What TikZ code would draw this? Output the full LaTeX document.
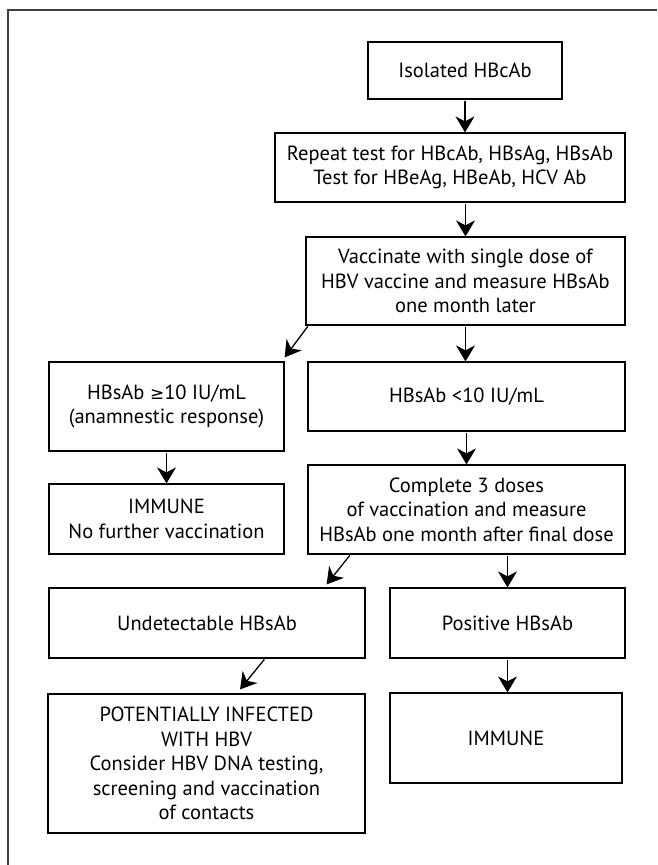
\documentclass[tikz,border=0pt]{standalone}
\usepackage{fontspec}
\setmainfont{PT Sans}
\newfontfamily\symfont{DejaVu Sans}
\usetikzlibrary{arrows.meta,positioning,calc}

\begin{document}
\begin{tikzpicture}[x=1pt,y=-1pt,
        boxsty/.style={
            draw, rectangle, line width=1.2pt, align=center, inner sep=0pt,
            font=\fontsize{20.5}{24.5}\selectfont,
        },
        arrsty/.style={
            -{Stealth[length=16pt,width=19pt,inset=5pt]}, line width=1.3pt,
            shorten <=1pt
        },
        framesty/.style={
            line width=1.5pt, black!75
        }
    ]
    \useasboundingbox (0,0) rectangle (657,865);
    \draw[framesty] (657,10) -- (8,10) -- (8,865);

    % main column
    \node[boxsty, minimum width=194pt, minimum height=57pt] at (465,70.5) (iso) {Isolated HBcAb};
    \node[boxsty, minimum width=350pt, minimum height=69pt] at (450,167.5) (rep) {Repeat test for HBcAb, HBsAg, HBsAb\\Test for HBeAg, HBeAb, HCV Ab};
    \node[boxsty, minimum width=319pt, minimum height=88pt] at (465.5,281) (vac) {Vaccinate with single dose of\\HBV vaccine and measure HBsAb\\one month later};

    % first split
    \node[boxsty, minimum width=235pt, minimum height=89pt] at (166.5,406.5) (hi) {HBsAb {\symfont\fontsize{17}{20}\selectfont ≥}10 IU/mL\\(anamnestic response)};
    \node[boxsty, minimum width=317pt, minimum height=69pt] at (466.5,396.5) (lo) {HBsAb <10 IU/mL};
    \node[boxsty, minimum width=235pt, minimum height=70pt] at (166.5,519) (imm1) {IMMUNE\\No further vaccination};
    \node[boxsty, minimum width=317pt, minimum height=89pt] at (466.5,509.5) (cmp) {Complete 3 doses\\of vaccination and measure\\HBsAb one month after final dose};

    % second split
    \node[boxsty, minimum width=316pt, minimum height=70pt] at (207,623) (und) {Undetectable HBsAb};
    \node[boxsty, minimum width=235pt, minimum height=70pt] at (507.5,623) (pos) {Positive HBsAb};
    \node[boxsty, minimum width=317pt, minimum height=139pt] at (206.5,763.5) (inf) {POTENTIALLY INFECTED\\WITH HBV\\Consider HBV DNA testing,\\screening and vaccination\\of contacts};
    \node[boxsty, minimum width=232pt, minimum height=90pt] at (506,738) (imm2) {IMMUNE};

    \draw[arrsty] (iso.south) -- (iso.south |- rep.north);
    \draw[arrsty] (vac.north |- rep.south) -- (vac.north);
    \draw[arrsty] ([xshift=3pt]vac.south west) -- ([yshift=4pt]hi.north east);
    \draw[arrsty] (vac.south) -- (vac.south |- lo.north);
    \draw[arrsty] (hi.south) -- (imm1.north);
    \draw[arrsty] (lo.south) -- (cmp.north);
    \draw[arrsty] ([xshift=43pt]cmp.south west) -- ([xshift=-39pt,yshift=3pt]und.north east);
    \draw[arrsty] (pos.north |- cmp.south) -- (pos.north);
    \draw[arrsty] ([xshift=58pt]und.south) -- ([xshift=33.5pt,yshift=4pt]inf.north);
    \draw[arrsty] (pos.south) -- (pos.south |- imm2.north);
\end{tikzpicture}
\end{document}
